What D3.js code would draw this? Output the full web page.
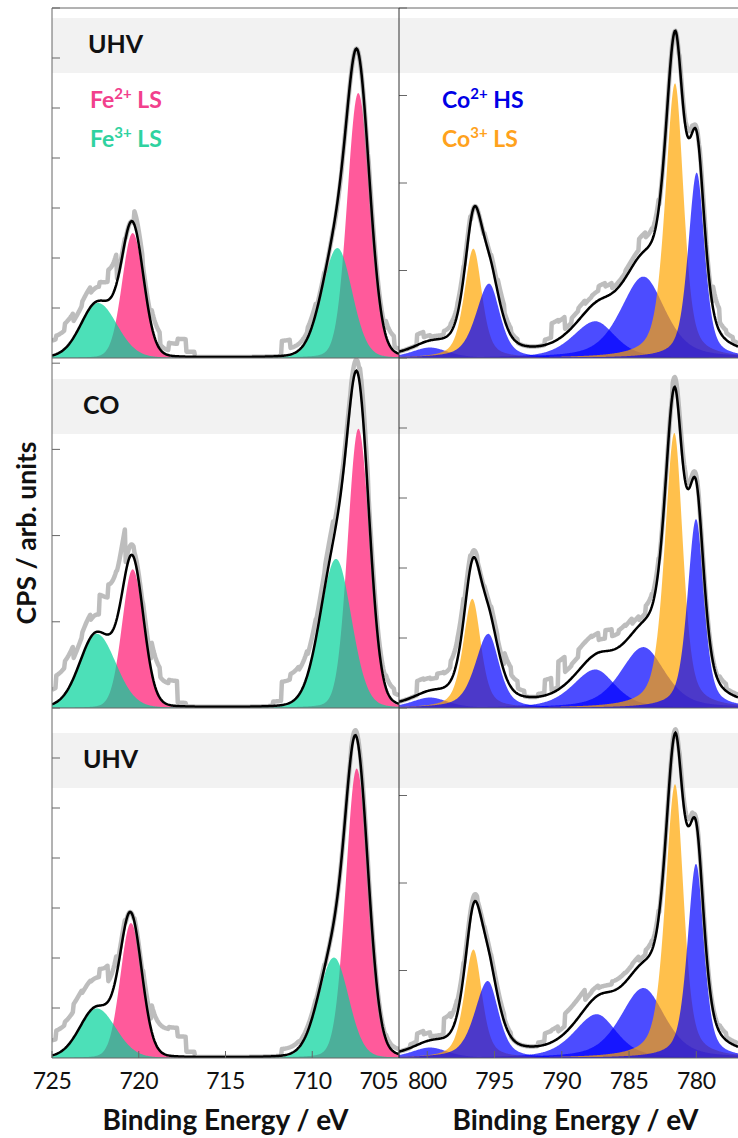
<!DOCTYPE html>
<html>
<head>
<meta charset="utf-8">
<title>Fe 2p / Co 2p XPS</title>
<style>
  body { margin: 0; background: #fff; }
  .viz { display: block; font-family: Lato, "Open Sans", sans-serif; }
</style>
</head>
<body>
<svg class="viz" width="738" height="1138"></svg>

<script src="https://d3js.org/d3.v7.min.js"></script>
<script>

// ---- data ----
var conditions = ['UHV', 'CO', 'UHV'];
var feTicks = [725, 720, 715, 710, 705];
var coTicks = [800, 795, 790, 785, 780];
var feRange = [725, 705];
var coRange = [802.1, 776.9];
var feYMax = [7, 4.06, 7];	// y extent of each Fe panel, in tick units
var coYMax = [4, 5, 4];

// fitted components, one entry per row:
// [centre / eV, height, HWHM on high-BE side, HWHM on low-BE side]
var fe2LS = [
	[[707.35, 5.30, 0.74, 0.80], [720.35, 2.50, 0.72, 0.75]],
	[[707.34, 3.24, 0.72, 0.76], [720.35, 1.61, 0.72, 0.75]],
	[[707.44, 5.79, 0.74, 0.80], [720.45, 2.70, 0.72, 0.75]]
];
var fe3LS = [
	[[708.55, 2.20, 1.05, 1.00], [722.35, 1.10, 1.15, 1.30]],
	[[708.63, 1.73, 1.08, 1.05], [722.42, 0.86, 1.15, 1.30]],
	[[708.75, 2.01, 1.05, 1.00], [722.42, 0.99, 1.15, 1.30]]
];
var co3LS = [
	[[781.58, 3.14, 0.85, 0.75], [796.57, 1.25, 0.80, 0.75]],
	[[781.63, 3.93, 0.85, 0.75], [796.65, 1.56, 0.80, 0.75]],
	[[781.58, 3.13, 0.85, 0.75], [796.57, 1.24, 0.80, 0.75]]
];
var co2HS = [
	[[779.97, 2.12, 0.75, 0.70], [795.40, 0.85, 1.15, 0.95]],
	[[780.02, 2.70, 0.75, 0.70], [795.46, 1.06, 1.15, 0.95]],
	[[780.02, 2.22, 0.75, 0.70], [795.50, 0.88, 1.15, 0.95]]
];
var co2HSsat = [
	[[783.93, 0.93, 2.00, 1.90], [787.50, 0.42, 2.00, 1.75], [799.80, 0.12, 1.60, 1.60]],
	[[783.94, 0.87, 2.00, 1.90], [787.50, 0.55, 2.00, 1.75], [799.80, 0.15, 1.60, 1.60]],
	[[783.94, 0.80, 2.00, 1.90], [787.40, 0.50, 2.00, 1.75], [799.80, 0.12, 1.60, 1.60]]
];

// measured counts minus fit, 0.5 eV bins from 725 eV down to 705 eV
var feResidual = [
	[0.30, 0.37, 0.50, 0.33, 0.40, 0.28, 0.37, 0.60, 0.07, 0.00,
	 0.27, 0.13, 0.33, 0.10, 0.25, 0.35, 0.10, 0.00, 0.00, 0.00,
	 0.00, 0.00, 0.00, 0.00, 0.00, 0.00, 0.00, 0.30, 0.13, 0.13,
	 0.20, 0.07, 0.00, -0.05, 0.00, 0.00, 0.00, 0.10, 0.10, 0.30, 0.10],
	[0.17, 0.31, 0.38, 0.23, 0.27, 0.20, 0.43, 0.58, 0.55, 0.12,
	 0.08, 0.12, 0.35, 0.25, 0.29, 0.04, 0.00, 0.00, 0.00, 0.00,
	 0.00, 0.00, 0.00, 0.00, 0.00, 0.00, 0.05, 0.27, 0.33, 0.29,
	 0.23, 0.19, 0.23, 0.12, 0.10, 0.13, 0.20, 0.10, 0.10, 0.15, 0.10],
	[0.30, 0.47, 0.53, 0.67, 0.60, 0.57, 0.73, 0.40, 0.13, 0.00,
	 0.07, 0.20, 0.53, 0.53, 0.57, 0.40, 0.10, 0.00, 0.00, 0.00,
	 0.00, 0.00, 0.00, 0.00, 0.00, 0.00, 0.00, 0.13, 0.13, 0.10,
	 0.10, 0.07, 0.00, 0.00, 0.00, 0.10, 0.10, 0.05, 0.05, 0.10, 0.10]
];
// same for Co, 0.5 eV bins from 802 eV down to 777 eV
var coResidual = [
	[0.00, 0.00, 0.00, 0.12, 0.06, 0.04, 0.04, 0.08, 0.10, 0.12,
	 0.08, 0.00, 0.00, 0.04, 0.08, 0.15, 0.08, 0.04, 0.00, 0.00,
	 0.00, 0.00, 0.06, 0.22, 0.20, 0.06, 0.11, 0.14, 0.10, 0.11,
	 0.16, 0.12, 0.06, 0.06, 0.08, 0.08, 0.20, 0.14, 0.11, 0.00,
	 0.00, 0.00, 0.06, 0.08, 0.04, 0.08, 0.04, 0.25, 0.11, 0.08, 0.04],
	[0.00, 0.00, 0.00, 0.20, 0.18, 0.16, 0.22, 0.20, 0.28, 0.30,
	 0.18, 0.10, 0.04, 0.08, 0.14, 0.10, 0.28, 0.18, 0.08, 0.00,
	 0.00, 0.04, 0.22, 0.04, 0.40, 0.18, 0.20, 0.30, 0.30, 0.28,
	 0.18, 0.30, 0.20, 0.24, 0.22, 0.14, 0.08, 0.18, 0.14, 0.04,
	 0.00, 0.14, 0.14, 0.08, 0.08, 0.04, 0.04, 0.04, 0.10, 0.04, 0.04],
	[0.00, 0.00, 0.04, 0.13, 0.09, 0.04, 0.04, 0.22, 0.17, 0.14,
	 0.08, 0.08, 0.04, 0.06, 0.08, 0.08, 0.04, 0.00, 0.00, 0.00,
	 0.00, 0.04, 0.13, 0.14, 0.08, 0.22, 0.22, 0.22, 0.10, 0.11,
	 0.08, 0.08, 0.11, 0.11, 0.10, 0.11, 0.06, 0.11, 0.08, 0.00,
	 0.00, 0.04, 0.08, 0.08, 0.04, 0.04, 0.04, 0.04, 0.08, 0.04, 0.04]
];

// ---- layout ----
var canvas = d3.select('.viz');
var rowTop = [8, 358, 708];
var rowH = 350;
var bandTop = [18, 379, 733];
var labelX = [88, 83, 83];
var frame = '#666';

// pseudo-Voigt, separate widths either side of the centre
var peakFn = function(p, eta) {
	return function(e) {
		var w = e > p[0] ? p[2] : p[3];
		var u = (e - p[0]) / w;
		return p[1] * ((1 - eta) * Math.exp(-Math.LN2 * u * u) + eta / (1 + u * u));
	};
};

var panels = [
	{
		x0: 52, x1: 399, dom: feRange, ticks: feTicks, yMax: feYMax, eta: 0.1,
		res: feResidual, start: 725,
		layers: function(r) {
			return [
				{ peaks: fe2LS[r], color: 'rgb(255,20,112)' },
				{ peaks: fe3LS[r], color: 'rgb(0,211,154)' }
			];
		}
	},
	{
		x0: 399, x1: 738, dom: coRange, ticks: coTicks, yMax: coYMax, eta: 0.5,
		res: coResidual, start: 802,
		layers: function(r) {
			return [
				{ peaks: co2HSsat[r], color: 'rgb(0,0,255)' },
				{ peaks: co3LS[r], color: 'rgb(255,165,0)' },
				{ peaks: co2HS[r], color: 'rgb(0,0,255)' }
			];
		}
	}
];

// grey bands behind the condition labels
canvas.selectAll('.band').data(rowTop)
	.enter().append('rect')
		.attr('class', 'band')
		.attr('x', 52)
		.attr('y', function(d, i) { return bandTop[i]; })
		.attr('width', 738 - 52)
		.attr('height', 55)
		.attr('fill', '#f2f2f2');

var defs = canvas.append('defs');

rowTop.forEach(function(top, r) {
	panels.forEach(function(p, pi) {
		var x = d3.scaleLinear().domain(p.dom).range([p.x0, p.x1]);
		var y = d3.scaleLinear().domain([0, p.yMax[r]]).range([top + rowH, top]);
		var lo = Math.min(p.dom[0], p.dom[1]), hi = Math.max(p.dom[0], p.dom[1]);
		var energies = d3.range(lo, hi + 0.0001, 0.05);

		var clipId = 'clip' + r + pi;
		defs.append('clipPath').attr('id', clipId)
			.append('rect')
				.attr('x', p.x0).attr('y', top - 20)
				.attr('width', p.x1 - p.x0).attr('height', rowH + 20);

		var g = canvas.append('g').attr('clip-path', 'url(#' + clipId + ')');

		var all = [];
		var area = d3.area()
			.x(function(d) { return x(d.e); })
			.y0(y(0))
			.y1(function(d) { return y(d.v); });

		// component fills
		p.layers(r).forEach(function(layer) {
			layer.peaks.forEach(function(pk) {
				var f = peakFn(pk, p.eta);
				all.push(f);
				g.append('path')
					.datum(energies.map(function(e) { return { e: e, v: f(e) }; }))
					.attr('d', area)
					.attr('fill', layer.color)
					.attr('fill-opacity', 0.7);
			});
		});

		var envelope = function(e) {
			return d3.sum(all, function(f) { return f(e); });
		};
		var line = d3.line()
			.x(function(d) { return x(d.e); })
			.y(function(d) { return y(d.v); });

		// measured spectrum = fit + binned residual
		var res = p.res[r];
		g.append('path')
			.datum(energies.map(function(e) {
				var k = Math.max(0, Math.min(res.length - 1, Math.round((p.start - e) / 0.5)));
				return { e: e, v: envelope(e) + res[k] };
			}))
			.attr('d', line)
			.attr('fill', 'none')
			.attr('stroke', '#999')
			.attr('stroke-opacity', 0.65)
			.attr('stroke-width', 4.5)
			.attr('stroke-linejoin', 'round');

		// fit envelope
		g.append('path')
			.datum(energies.map(function(e) { return { e: e, v: envelope(e) }; }))
			.attr('d', line)
			.attr('fill', 'none')
			.attr('stroke', '#000')
			.attr('stroke-width', 2.5);

		// inward y ticks
		canvas.selectAll(null).data(d3.range(1, Math.floor(p.yMax[r] + 0.001) + 1))
			.enter().append('line')
				.attr('x1', p.x0).attr('x2', p.x0 + 8)
				.attr('y1', function(d) { return y(d); })
				.attr('y2', function(d) { return y(d); })
				.attr('stroke', frame);

		// x ticks and labels on the bottom row
		if (r === rowTop.length - 1) {
			canvas.selectAll(null).data(p.ticks)
				.enter().append('line')
					.attr('x1', function(d) { return x(d); })
					.attr('x2', function(d) { return x(d); })
					.attr('y1', top + rowH).attr('y2', top + rowH - 7)
					.attr('stroke', frame);

			canvas.selectAll(null).data(p.ticks)
				.enter().append('text')
					.attr('x', function(d, i) {
						return (pi === 0 && i === p.ticks.length - 1) ? x(d) - 1 : x(d);
					})
					.attr('y', 1089)
					.attr('text-anchor', function(d, i) {
						return (pi === 0 && i === p.ticks.length - 1) ? 'end' : 'middle';
					})
					.attr('font-size', 23)
					.attr('letter-spacing', -0.5)
					.attr('fill', '#111')
					.text(function(d) { return d; });

			canvas.append('text')
				.attr('x', (p.x0 + p.x1) / 2 + (pi === 0 ? 0 : 7))
				.attr('y', 1130)
				.attr('text-anchor', 'middle')
				.attr('font-size', 28)
				.attr('font-weight', 'bold')
				.attr('fill', '#111')
				.text('Binding Energy / eV');
		}
	});

	canvas.append('text')
		.attr('x', labelX[r])
		.attr('y', bandTop[r] + 35)
		.attr('font-size', 25)
		.attr('font-weight', 'bold')
		.attr('fill', '#111')
		.text(conditions[r]);
});

// frame lines
var hLines = [8, 358, 708, 1058];
canvas.selectAll(null).data(hLines)
	.enter().append('line')
		.attr('x1', 52).attr('x2', 738)
		.attr('y1', function(d) { return d; })
		.attr('y2', function(d) { return d; })
		.attr('stroke', frame);
canvas.selectAll(null).data([52, 399])
	.enter().append('line')
		.attr('x1', function(d) { return d; })
		.attr('x2', function(d) { return d; })
		.attr('y1', 8).attr('y2', 1058)
		.attr('stroke', function(d) { return d === 399 ? '#333' : frame; });

// legends
var legend = [
	{ x: 90, y: 108, base: 'Fe', sup: '2+', tail: ' LS', color: '#f2408c' },
	{ x: 90, y: 147, base: 'Fe', sup: '3+', tail: ' LS', color: '#2fd2a0' },
	{ x: 442, y: 108, base: 'Co', sup: '2+', tail: ' HS', color: '#0000e6' },
	{ x: 442, y: 147, base: 'Co', sup: '3+', tail: ' LS', color: '#ffa21c' }
];
legend.forEach(function(d) {
	var t = canvas.append('text')
		.attr('x', d.x).attr('y', d.y)
		.attr('font-size', 23)
		.attr('font-weight', 'bold')
		.attr('fill', d.color);
	t.append('tspan').text(d.base);
	t.append('tspan').attr('dy', -9).attr('font-size', 15).text(d.sup);
	t.append('tspan').attr('dy', 9).text(d.tail);
});

// y axis title
canvas.append('text')
	.attr('transform', 'translate(36,533) rotate(-90)')
	.attr('text-anchor', 'middle')
	.attr('font-size', 26.5)
	.attr('font-weight', 'bold')
	.attr('fill', '#111')
	.text('CPS / arb. units');

</script>
</body>
</html>
